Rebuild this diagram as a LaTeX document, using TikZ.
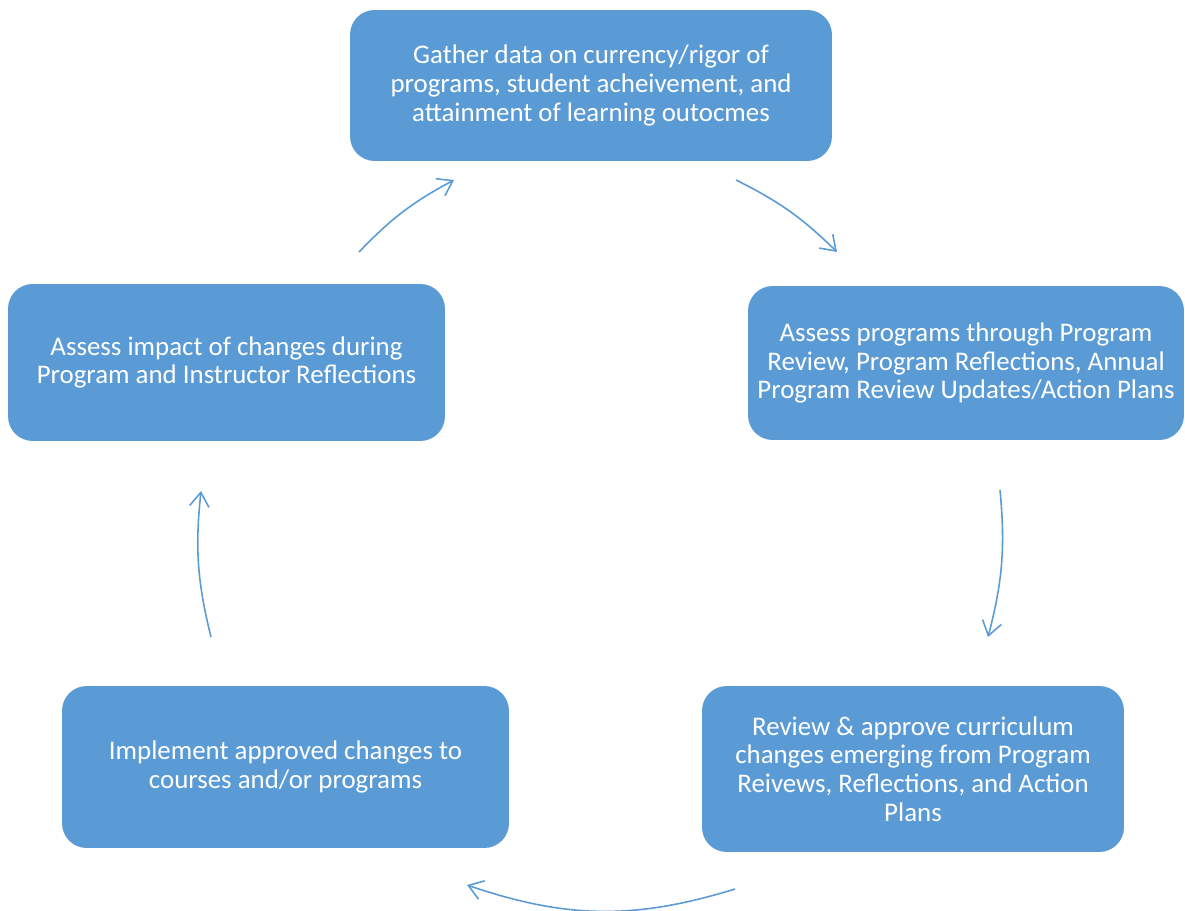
\documentclass[tikz,border=0pt]{standalone}
\usepackage{fontspec}
\setmainfont{Carlito}
\usetikzlibrary{arrows.meta}
\definecolor{boxblue}{HTML}{5B9BD5}

\tikzset{
  stage/.style={fill=boxblue, rounded corners=14pt, text=white, align=center,
    inner sep=0pt, font=\fontsize{15.3}{16.4}\selectfont},
  cyc/.style={draw=boxblue, line width=0.9pt,
    -{Straight Barb[length=8pt,width=11pt]}},
}

\begin{document}
\begin{tikzpicture}[x=0.02cm, y=-0.02cm]
        \useasboundingbox (0,0) rectangle (1185,911);
        % the five stages
        \node[stage, minimum width=9.64cm, minimum height=3.02cm] (gather) at (591,85.5)
            {Gather data on currency/rigor of\\ programs, student acheivement, and\\ attainment of learning outocmes};
        \node[stage, minimum width=8.72cm, minimum height=3.08cm] (assess) at (966,363)
            {Assess programs through Program\\ Review, Program Reflections, Annual\\ Program Review Updates/Action Plans};
        \node[stage, minimum width=8.44cm, minimum height=3.32cm] (review) at (913,769)
            {Review \& approve curriculum\\ changes emerging from Program\\ Reivews, Reflections, and Action\\ Plans};
        \node[stage, minimum width=8.94cm, minimum height=3.24cm] (implement) at (285.5,767)
            {Implement approved changes to\\ courses and/or programs};
        \node[stage, minimum width=8.74cm, minimum height=3.14cm] (impact) at (226.5,362.5)
            {Assess impact of changes during\\ Program and Instructor Reflections};

        % arrow ends
        \coordinate (g1) at (736,180);
        \coordinate (a1) at (837,252);
        \coordinate (a2) at (1000,490);
        \coordinate (r1) at (988,637);
        \coordinate (r2) at (735,889);
        \coordinate (i1) at (467,885);
        \coordinate (i2) at (211,637);
        \coordinate (m1) at (201,491);
        \coordinate (m2) at (359,252);
        \coordinate (g2) at (454,180);

        \draw[cyc] (g1) to[bend left=9] (a1);
        \draw[cyc] (a2) to[bend left=10] (r1);
        \draw[cyc] (r2) to[bend left=18] (i1);
        \draw[cyc] (i2) to[bend left=10] (m1);
        \draw[cyc] (m2) to[bend left=9] (g2);
\end{tikzpicture}
\end{document}
